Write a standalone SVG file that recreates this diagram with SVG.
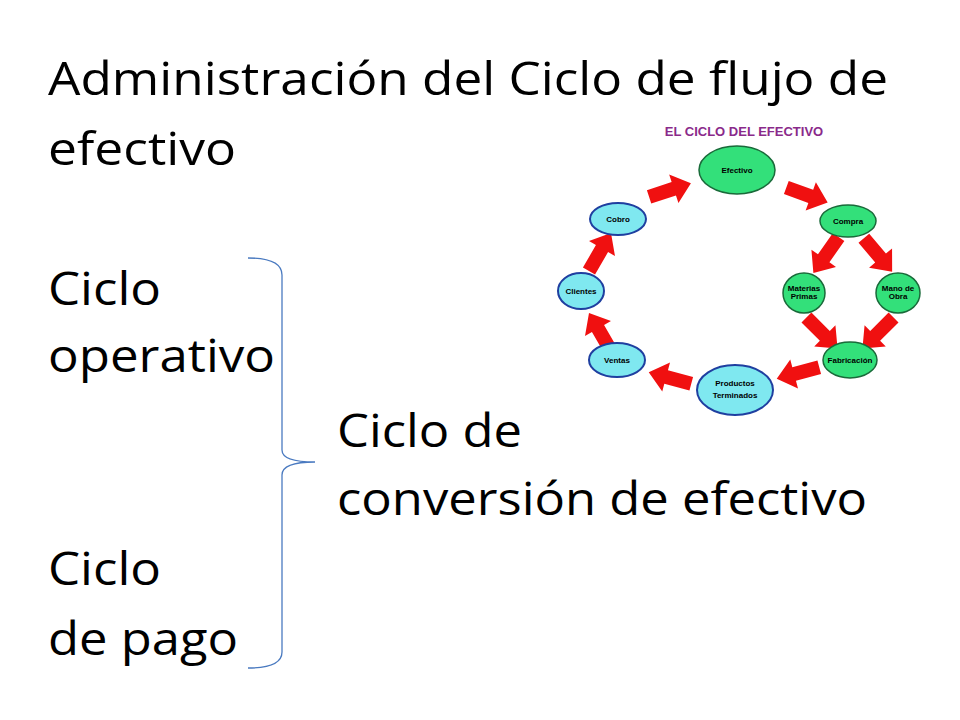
<svg xmlns="http://www.w3.org/2000/svg" width="960" height="720" viewBox="0 0 960 720">
<style>
.t{font-family:"Open Sans","Liberation Sans",Arial,sans-serif;font-size:45px;fill:#000}
.n{font-family:"Liberation Sans",Arial,sans-serif;font-size:8px;font-weight:bold;fill:#000;text-anchor:middle}
.g{fill:#33e07a;stroke:#1a6a3a;stroke-width:1.5}
.b{fill:#7fe8f0;stroke:#1f3fa0;stroke-width:2}
.a{fill:#f01010}
</style>
<defs><path id="arr" d="M-22,-7 L4,-7 L4,-15 L22,0 L4,15 L4,7 L-22,7 Z"/></defs>
<rect width="960" height="720" fill="#fff"/>
<text class="t" x="48" y="95" textLength="840" lengthAdjust="spacingAndGlyphs">Administración del Ciclo de flujo de</text>
<text class="t" x="48" y="165" textLength="188" lengthAdjust="spacingAndGlyphs">efectivo</text>
<text class="t" x="48" y="305" textLength="113" lengthAdjust="spacingAndGlyphs">Ciclo</text>
<text class="t" x="48" y="372" textLength="227" lengthAdjust="spacingAndGlyphs">operativo</text>
<text class="t" x="337" y="447" textLength="185" lengthAdjust="spacingAndGlyphs">Ciclo de</text>
<text class="t" x="337" y="515" textLength="530" lengthAdjust="spacingAndGlyphs">conversión de efectivo</text>
<text class="t" x="48" y="585" textLength="113" lengthAdjust="spacingAndGlyphs">Ciclo</text>
<text class="t" x="48" y="655" textLength="190" lengthAdjust="spacingAndGlyphs">de pago</text>
<path d="M248,258 Q282,258 282,275 L282,450 Q282,462 315,462 Q282,462 282,475 L282,652 Q282,668 248,668" fill="none" stroke="#4a7ac0" stroke-width="1.3"/>
<text x="744" y="136" font-family="Liberation Sans,Arial,sans-serif" font-size="13" font-weight="bold" fill="#8a2a8a" text-anchor="middle">EL CICLO DEL EFECTIVO</text>
<g id="connectors" class="a">
<use href="#arr" transform="translate(670,190) rotate(-18)"/>
<use href="#arr" transform="translate(807,195) rotate(20)"/>
<use href="#arr" transform="translate(826,255) rotate(125)"/>
<use href="#arr" transform="translate(878,255) rotate(50)"/>
<use href="#arr" transform="translate(822,333) rotate(45)"/>
<use href="#arr" transform="translate(878,333) rotate(135)"/>
<use href="#arr" transform="translate(798,373) rotate(165)"/>
<use href="#arr" transform="translate(670,378) rotate(195)"/>
<use href="#arr" transform="translate(600,332) rotate(-120)"/>
<use href="#arr" transform="translate(600,252) rotate(-60)"/>
</g>
<g id="efectivo"><ellipse class="g" cx="737" cy="170" rx="38" ry="24"/><text class="n" x="737" y="173">Efectivo</text></g>
<g id="compra"><ellipse class="g" cx="848" cy="221" rx="28" ry="16"/><text class="n" x="848" y="224">Compra</text></g>
<g id="cobro"><ellipse class="b" cx="618" cy="219" rx="28" ry="16"/><text class="n" x="618" y="222">Cobro</text></g>
<g id="materias"><ellipse class="g" cx="804" cy="293" rx="21" ry="20"/><text class="n" x="804" y="291" font-size="6">Materias</text><text class="n" x="804" y="299" font-size="6">Primas</text></g>
<g id="mano"><ellipse class="g" cx="898" cy="293" rx="22" ry="20"/><text class="n" x="898" y="291" font-size="6">Mano de</text><text class="n" x="898" y="299" font-size="6">Obra</text></g>
<g id="clientes"><ellipse class="b" cx="581" cy="291" rx="23" ry="18"/><text class="n" x="581" y="294">Clientes</text></g>
<g id="fabricacion"><ellipse class="g" cx="850" cy="360" rx="27" ry="18"/><text class="n" x="850" y="363" font-size="7">Fabricación</text></g>
<g id="ventas"><ellipse class="b" cx="617" cy="360" rx="28" ry="17"/><text class="n" x="617" y="363">Ventas</text></g>
<g id="productos"><ellipse class="b" cx="735" cy="390" rx="38" ry="25"/><text class="n" x="735" y="386">Productos</text><text class="n" x="735" y="398">Terminados</text></g>
</svg>
